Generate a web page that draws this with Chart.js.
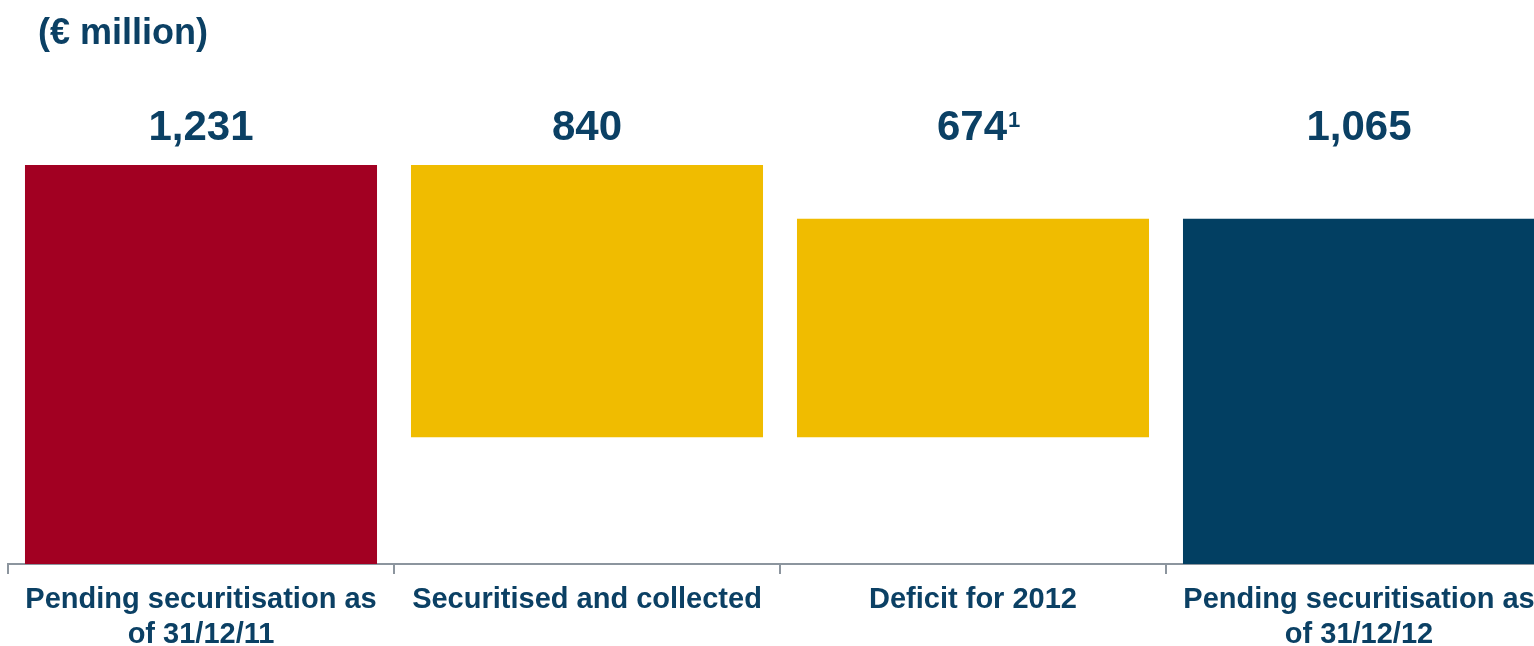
<!DOCTYPE html>
<html>
<head>
<meta charset="utf-8">
<script src="https://cdn.jsdelivr.net/npm/chart.js@4.4.1/dist/chart.umd.min.js"></script>
<style>
  body { margin: 0; background: #ffffff; overflow: hidden; }
  #wrap { position: relative; width: 1560px; height: 646px; }
</style>
</head>
<body>
<div id="wrap"><canvas id="myGraph" width="1560" height="646"></canvas></div>
<script>
const categories = [
  ["Pending securitisation as", "of 31/12/11"],
  "Securitised and collected",
  "Deficit for 2012",
  ["Pending securitisation as", "of 31/12/12"],
];
const amounts = [1231, 840, 674, 1065];
const steps = ["total", "minus", "plus", "total"];
const footnotes = ["", "", "1", ""];
const barColors = ["#A20022", "#F0BC00", "#F0BC00", "#023F62"];

const textColor = "#0B4064";
const axisColor = "#8C959E";
const font = "'Liberation Sans', Arial, sans-serif";

// running total turns the amounts into floating ranges
let level = 0;
const ranges = amounts.map((v, i) => {
  if (steps[i] === "total") {
    level = v;
    return [0, v];
  }
  if (steps[i] === "minus") {
    const r = [level - v, level];
    level -= v;
    return r;
  }
  const r = [level, level + v];
  level += v;
  return r;
});

const valueLabels = {
  id: "valueLabels",
  afterDatasetsDraw(chart) {
    const ctx = chart.ctx;
    const meta = chart.getDatasetMeta(0);
    const y = chart.chartArea.top - 25;
    ctx.save();
    ctx.fillStyle = textColor;
    ctx.textBaseline = "alphabetic";
    meta.data.forEach((bar, i) => {
      const txt = amounts[i].toLocaleString("en-US");
      ctx.font = "bold 42px " + font;
      const w = ctx.measureText(txt).width;
      const x0 = bar.x - w / 2 - (footnotes[i] ? 1 : 0);
      ctx.textAlign = "left";
      ctx.fillText(txt, x0, y);
      if (footnotes[i]) {
        ctx.font = "bold 22px " + font;
        ctx.fillText(footnotes[i], x0 + w + 1, y - 13);
      }
    });
    // heading
    ctx.font = "bold 36px " + font;
    ctx.textAlign = "left";
    ctx.fillText("(€ million)", 38, 44);
    ctx.restore();
  },
};

new Chart(document.getElementById("myGraph"), {
  type: "bar",
  data: {
    labels: categories,
    datasets: [
      {
        data: ranges,
        backgroundColor: barColors,
        borderWidth: 0,
        categoryPercentage: 1,
        barPercentage: 0.912,
      },
    ],
  },
  options: {
    responsive: false,
    animation: false,
    layout: {
      padding: { left: 8, right: 8, top: 165, bottom: 0 },
    },
    plugins: {
      legend: { display: false },
      tooltip: { enabled: false },
    },
    scales: {
      x: {
        afterFit(scale) {
          scale.height = 82;
        },
        grid: {
          offset: true,
          drawOnChartArea: false,
          color: axisColor,
          lineWidth: 2,
          tickLength: 10,
        },
        border: { display: true, color: axisColor, width: 2 },
        ticks: {
          color: textColor,
          padding: 9,
          maxRotation: 0,
          autoSkip: false,
          font: { family: font, size: 29, weight: "bold", lineHeight: 1.2 },
        },
      },
      y: {
        display: false,
        min: 0,
        max: Math.max(...ranges.map((r) => r[1])),
      },
    },
  },
  plugins: [valueLabels],
});
</script>
</body>
</html>
